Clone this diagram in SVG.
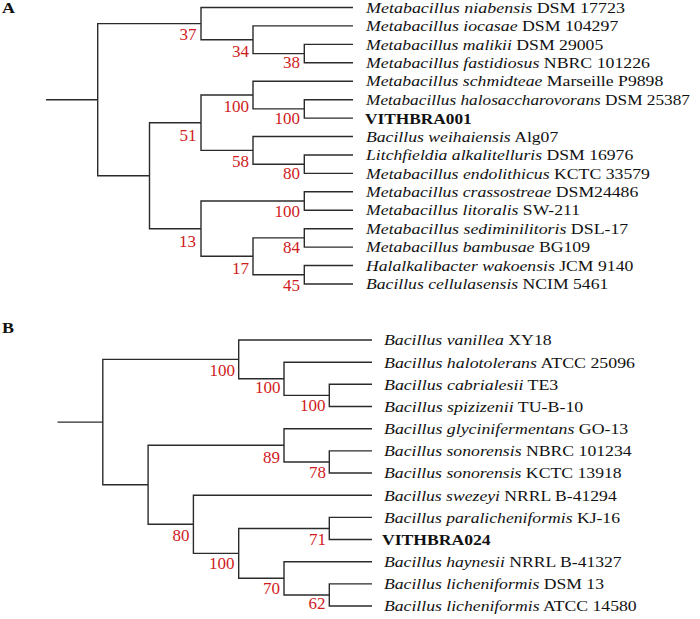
<svg xmlns="http://www.w3.org/2000/svg" width="700" height="619" viewBox="0 0 700 619">
<style>
.br{fill:none;stroke:#2b2b2b;stroke-width:1.4}
.lf{font-family:"Liberation Serif","Times New Roman",serif;font-size:15.5px;fill:#111}
.it{font-style:italic}
.bd{font-weight:bold}
.bs{font-family:"Liberation Serif","Times New Roman",serif;font-size:17px;fill:#d01c1c;text-anchor:end}
.pl{font-family:"Liberation Serif","Times New Roman",serif;font-size:15px;font-weight:bold;fill:#111}
</style>
<rect width="700" height="619" fill="#fff"/>
<g id="connectors">
<path class="br" d="M46,99.7 H97.7"/>
<path class="br" d="M201,23.6 H97.7 V175.7 H149.5"/>
<path class="br" d="M353,7.5 H201 V39.75 H253"/>
<path class="br" d="M353,25.9 H253 V53.6 H304.3"/>
<path class="br" d="M353,44.4 H304.3 V62.8 H353"/>
<path class="br" d="M201,122.7 H149.5 V228.7 H201"/>
<path class="br" d="M253,95.05 H201 V150.35 H253"/>
<path class="br" d="M353,81.2 H253 V108.9 H304.3"/>
<path class="br" d="M353,99.7 H304.3 V118.1 H353"/>
<path class="br" d="M353,136.5 H253 V164.2 H304.3"/>
<path class="br" d="M353,155 H304.3 V173.4 H353"/>
<path class="br" d="M304.3,201 H201 V256.3 H253"/>
<path class="br" d="M353,191.8 H304.3 V210.2 H353"/>
<path class="br" d="M304.3,237.9 H253 V274.75 H304.3"/>
<path class="br" d="M353,228.7 H304.3 V247.1 H353"/>
<path class="br" d="M353,265.5 H304.3 V284 H353"/>
<path class="br" d="M57.5,422.1 H102.8"/>
<path class="br" d="M238.7,359.4 H102.8 V484.8 H148.1"/>
<path class="br" d="M372,340 H238.7 V378.8 H284"/>
<path class="br" d="M372,362.2 H284 V395.4 H329.3"/>
<path class="br" d="M372,384.3 H329.3 V406.5 H372"/>
<path class="br" d="M284,445.3 H148.1 V524.3 H193.4"/>
<path class="br" d="M372,428.7 H284 V462 H329.3"/>
<path class="br" d="M372,450.9 H329.3 V473 H372"/>
<path class="br" d="M372,495.2 H193.4 V553.4 H238.7"/>
<path class="br" d="M329.3,528.5 H238.7 V578.3 H284"/>
<path class="br" d="M372,517.4 H329.3 V539.5 H372"/>
<path class="br" d="M372,561.7 H284 V595 H329.3"/>
<path class="br" d="M372,583.9 H329.3 V606 H372"/>
</g>
<g id="panel-labels">
<text class="pl" transform="translate(2 13.3) scale(1.2 1)">A</text>
<text class="pl" transform="translate(2 333) scale(1.2 1)">B</text>
</g>
<g id="tree-A-nodes">
<g id="a-n37"><text class="bs" x="196.5" y="40">37</text></g>
<g id="a-n34"><text class="bs" x="249" y="56.7">34</text></g>
<g id="a-n38"><text class="bs" x="300" y="68.3">38</text></g>
<g id="a-n100a"><text class="bs" x="249" y="111.7">100</text></g>
<g id="a-n100b"><text class="bs" x="300" y="124.3">100</text></g>
<g id="a-n51"><text class="bs" x="196.5" y="141">51</text></g>
<g id="a-n58"><text class="bs" x="249" y="166.7">58</text></g>
<g id="a-n80"><text class="bs" x="300" y="179.3">80</text></g>
<g id="a-n100c"><text class="bs" x="300" y="216.7">100</text></g>
<g id="a-n13"><text class="bs" x="196" y="247.3">13</text></g>
<g id="a-n84"><text class="bs" x="300" y="253.3">84</text></g>
<g id="a-n17"><text class="bs" x="249" y="274.3">17</text></g>
<g id="a-n45"><text class="bs" x="300" y="290.7">45</text></g>
</g>
<g id="tree-A-leaves">
<g id="a-l0"><text class="lf" x="366" y="12.7" textLength="259" lengthAdjust="spacingAndGlyphs"><tspan class="it">Metabacillus niabensis</tspan> DSM 17723</text></g>
<g id="a-l1"><text class="lf" x="366" y="31.1" textLength="252.3" lengthAdjust="spacingAndGlyphs"><tspan class="it">Metabacillus iocasae</tspan> DSM 104297</text></g>
<g id="a-l2"><text class="lf" x="366" y="49.6" textLength="237.3" lengthAdjust="spacingAndGlyphs"><tspan class="it">Metabacillus malikii</tspan> DSM 29005</text></g>
<g id="a-l3"><text class="lf" x="366" y="68" textLength="284" lengthAdjust="spacingAndGlyphs"><tspan class="it">Metabacillus fastidiosus</tspan> NBRC 101226</text></g>
<g id="a-l4"><text class="lf" x="366" y="86.4" textLength="297.3" lengthAdjust="spacingAndGlyphs"><tspan class="it">Metabacillus schmidteae</tspan> Marseille P9898</text></g>
<g id="a-l5"><text class="lf" x="366" y="104.9" textLength="324" lengthAdjust="spacingAndGlyphs"><tspan class="it">Metabacillus halosaccharovorans</tspan> DSM 25387</text></g>
<g id="a-l6"><text class="lf bd" x="365" y="123.5" textLength="106.7" lengthAdjust="spacingAndGlyphs">VITHBRA001</text></g>
<g id="a-l7"><text class="lf" x="366" y="141.7" textLength="192.3" lengthAdjust="spacingAndGlyphs"><tspan class="it">Bacillus weihaiensis</tspan> Alg07</text></g>
<g id="a-l8"><text class="lf" x="366" y="160.2" textLength="267.3" lengthAdjust="spacingAndGlyphs"><tspan class="it">Litchfieldia alkalitelluris</tspan> DSM 16976</text></g>
<g id="a-l9"><text class="lf" x="366" y="178.6" textLength="284" lengthAdjust="spacingAndGlyphs"><tspan class="it">Metabacillus endolithicus</tspan> KCTC 33579</text></g>
<g id="a-l10"><text class="lf" x="366" y="197" textLength="272.3" lengthAdjust="spacingAndGlyphs"><tspan class="it">Metabacillus crassostreae</tspan> DSM24486</text></g>
<g id="a-l11"><text class="lf" x="366" y="215.4" textLength="214" lengthAdjust="spacingAndGlyphs"><tspan class="it">Metabacillus litoralis</tspan> SW-211</text></g>
<g id="a-l12"><text class="lf" x="366" y="233.9" textLength="262.3" lengthAdjust="spacingAndGlyphs"><tspan class="it">Metabacillus sediminilitoris</tspan> DSL-17</text></g>
<g id="a-l13"><text class="lf" x="366" y="252.3" textLength="224" lengthAdjust="spacingAndGlyphs"><tspan class="it">Metabacillus bambusae</tspan> BG109</text></g>
<g id="a-l14"><text class="lf" x="366" y="270.7" textLength="267.3" lengthAdjust="spacingAndGlyphs"><tspan class="it">Halalkalibacter wakoensis</tspan> JCM 9140</text></g>
<g id="a-l15"><text class="lf" x="366" y="289.2" textLength="242.3" lengthAdjust="spacingAndGlyphs"><tspan class="it">Bacillus cellulasensis</tspan> NCIM 5461</text></g>
</g>
<g id="tree-B-nodes">
<g id="b-n100a"><text class="bs" x="235" y="376">100</text></g>
<g id="b-n100b"><text class="bs" x="280.5" y="393.3">100</text></g>
<g id="b-n100c"><text class="bs" x="325.5" y="411">100</text></g>
<g id="b-n89"><text class="bs" x="280" y="462.7">89</text></g>
<g id="b-n78"><text class="bs" x="326" y="478.3">78</text></g>
<g id="b-n80"><text class="bs" x="189.5" y="540.7">80</text></g>
<g id="b-n100d"><text class="bs" x="234.5" y="569.3">100</text></g>
<g id="b-n71"><text class="bs" x="326" y="545">71</text></g>
<g id="b-n70"><text class="bs" x="280" y="594">70</text></g>
<g id="b-n62"><text class="bs" x="325.5" y="609.3">62</text></g>
</g>
<g id="tree-B-leaves">
<g id="b-l0"><text class="lf" x="384" y="345.3" textLength="167.7" lengthAdjust="spacingAndGlyphs"><tspan class="it">Bacillus vanillea</tspan> XY18</text></g>
<g id="b-l1"><text class="lf" x="384" y="367.5" textLength="251" lengthAdjust="spacingAndGlyphs"><tspan class="it">Bacillus halotolerans</tspan> ATCC 25096</text></g>
<g id="b-l2"><text class="lf" x="384" y="389.6" textLength="174.3" lengthAdjust="spacingAndGlyphs"><tspan class="it">Bacillus cabrialesii</tspan> TE3</text></g>
<g id="b-l3"><text class="lf" x="384" y="411.8" textLength="199.3" lengthAdjust="spacingAndGlyphs"><tspan class="it">Bacillus spizizenii</tspan> TU-B-10</text></g>
<g id="b-l4"><text class="lf" x="384" y="434" textLength="244.3" lengthAdjust="spacingAndGlyphs"><tspan class="it">Bacillus glycinifermentans</tspan> GO-13</text></g>
<g id="b-l5"><text class="lf" x="384" y="456.2" textLength="247.7" lengthAdjust="spacingAndGlyphs"><tspan class="it">Bacillus sonorensis</tspan> NBRC 101234</text></g>
<g id="b-l6"><text class="lf" x="384" y="478.3" textLength="237.7" lengthAdjust="spacingAndGlyphs"><tspan class="it">Bacillus sonorensis</tspan> KCTC 13918</text></g>
<g id="b-l7"><text class="lf" x="384" y="500.5" textLength="232.7" lengthAdjust="spacingAndGlyphs"><tspan class="it">Bacillus swezeyi</tspan> NRRL B-41294</text></g>
<g id="b-l8"><text class="lf" x="384" y="522.7" textLength="236" lengthAdjust="spacingAndGlyphs"><tspan class="it">Bacillus paralicheniformis</tspan> KJ-16</text></g>
<g id="b-l9"><text class="lf bd" x="382" y="544.9" textLength="108.7" lengthAdjust="spacingAndGlyphs">VITHBRA024</text></g>
<g id="b-l10"><text class="lf" x="384" y="567" textLength="237.7" lengthAdjust="spacingAndGlyphs"><tspan class="it">Bacillus haynesii</tspan> NRRL B-41327</text></g>
<g id="b-l11"><text class="lf" x="384" y="589.2" textLength="220" lengthAdjust="spacingAndGlyphs"><tspan class="it">Bacillus licheniformis</tspan> DSM 13</text></g>
<g id="b-l12"><text class="lf" x="384" y="611.3" textLength="252.7" lengthAdjust="spacingAndGlyphs"><tspan class="it">Bacillus licheniformis</tspan> ATCC 14580</text></g>
</g>
</svg>
